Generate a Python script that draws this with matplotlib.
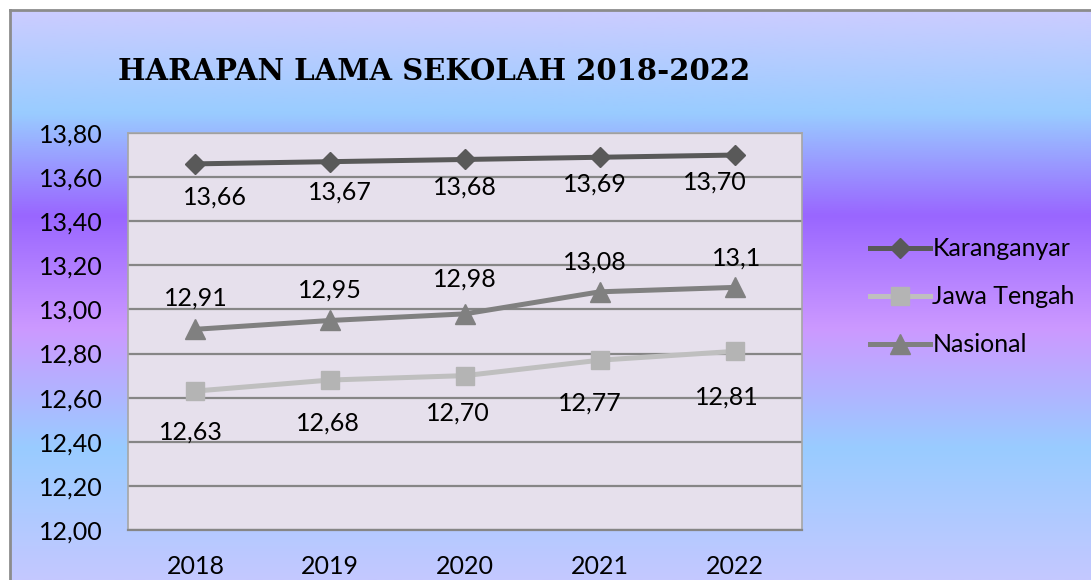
import matplotlib
matplotlib.use("Agg")
import matplotlib.pyplot as plt
from matplotlib.colors import LinearSegmentedColormap
import numpy as np

# Data
years = ["2018", "2019", "2020", "2021", "2022"]
karanganyar = [13.66, 13.67, 13.68, 13.69, 13.70]
jawa_tengah = [12.63, 12.68, 12.70, 12.77, 12.81]
nasional = [12.91, 12.95, 12.98, 13.08, 13.1]

# label offsets (pixels) - hand placed like the original chart
off_kar = [(20, -33), (10, -30), (0, -28), (-5, -27), (-20, -27)]
off_jat = [(-5, -41), (-2, -43), (-7, -37), (-10, -43), (-8, -46)]
off_nas = [(0, 31), (0, 30), (0, 35), (-5, 30), (2, 29)]

plt.rcParams['font.family'] = ['Lato', 'DejaVu Sans']
FS = 18

W, H = 1091, 580
fig = plt.figure(figsize=(W / 100, H / 100), dpi=100)
fig.patch.set_facecolor("white")

# Background gradient panel
bg = fig.add_axes([10 / W, 0, 1 - 10 / W, 1 - 10 / H])
stops = [(0.0, "#ccccff"), (0.18, "#99ccff"), (0.36, "#9966ff"),
         (0.56, "#cc99ff"), (0.77, "#99ccff"), (1.0, "#c4c8ff")]
cmap = LinearSegmentedColormap.from_list("daybreak", stops)
grad = np.linspace(0, 1, 256).reshape(-1, 1)
bg.imshow(grad, aspect="auto", cmap=cmap, extent=[0, 1, 1, 0])
bg.set_xticks([])
bg.set_yticks([])
for side in ["right", "bottom"]:
    bg.spines[side].set_visible(False)
for side in ["top", "left"]:
    bg.spines[side].set_color("#8c8c8c")
    bg.spines[side].set_linewidth(2)

# Plot area
ax = fig.add_axes([128 / W, 50 / H, 674 / W, 397 / H])
ax.set_facecolor("#e6e0ec")
x = np.arange(len(years))

ax.plot(x, karanganyar, color="#595959", lw=3.6, marker="D", ms=10.5,
        mec="#595959", mfc="#595959", label="Karanganyar", zorder=3)
ax.plot(x, jawa_tengah, color="#bfbfbf", lw=3.6, marker="s", ms=13,
        mec="#b4b4b4", mfc="#b4b4b4", label="Jawa Tengah", zorder=3)
ax.plot(x, nasional, color="#808080", lw=3.6, marker="^", ms=14,
        mec="#808080", mfc="#808080", label="Nasional", zorder=3)

ax.set_xlim(-0.5, len(years) - 0.5)
ax.set_ylim(12.0, 13.8)
yt = np.arange(12.0, 13.81, 0.2)
ax.set_yticks(yt)
ax.set_yticklabels([f"{v:.2f}".replace(".", ",") for v in yt], fontsize=FS)
ax.set_xticks(x)
ax.set_xticklabels(years, fontsize=FS)
ax.tick_params(axis="y", length=0, pad=18)
ax.tick_params(axis="x", length=0, pad=18)
ax.grid(axis="y", color="#868686", lw=1.6, zorder=1)
ax.set_axisbelow(True)
for s in ax.spines.values():
    s.set_color("#a6a6a6")
    s.set_linewidth(1.2)
ax.spines["bottom"].set_color("#868686")
ax.spines["bottom"].set_linewidth(1.6)

# Data labels
for xi, v, o in zip(x, karanganyar, off_kar):
    ax.annotate(f"{v:.2f}".replace(".", ","), (xi, v), xytext=o,
                textcoords="offset pixels", ha="center", va="center", fontsize=FS)
for xi, v, o in zip(x, jawa_tengah, off_jat):
    ax.annotate(f"{v:.2f}".replace(".", ","), (xi, v), xytext=o,
                textcoords="offset pixels", ha="center", va="center", fontsize=FS)
for xi, v, o in zip(x, nasional, off_nas):
    ax.annotate(f"{v:g}".replace(".", ","), (xi, v), xytext=o,
                textcoords="offset pixels", ha="center", va="center", fontsize=FS)

# Title
fig.text(118 / W, 1 - 72 / H, "HARAPAN LAMA SEKOLAH 2018-2022", family="DejaVu Serif",
         fontweight="bold", fontsize=21, ha="left", va="center")

# Legend
fig.legend(loc="center left", bbox_to_anchor=(870 / W, 1 - 297 / H), frameon=False,
           fontsize=FS, handlelength=2.4, handletextpad=0.1, labelspacing=1.0,
           borderpad=0, borderaxespad=0)

fig.savefig("out.png", dpi=100)
